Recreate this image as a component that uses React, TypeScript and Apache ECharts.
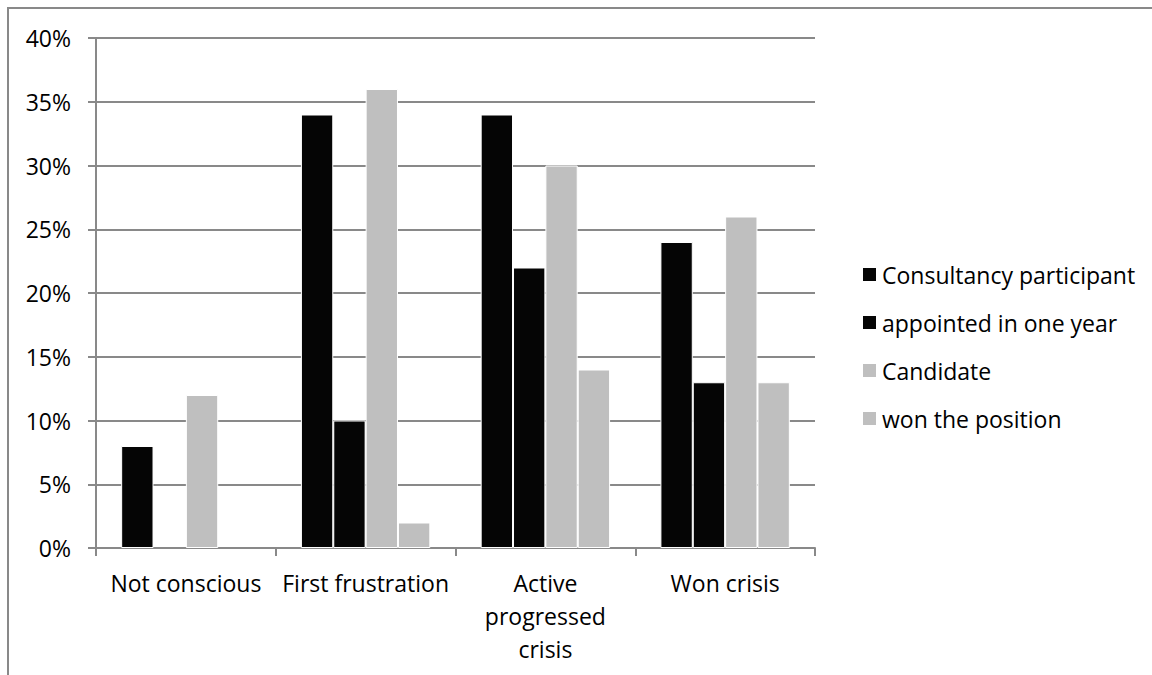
import React, { useEffect, useRef } from "react";
import * as echarts from "echarts";

const categories = ["Not conscious", "First frustration", "Active progressed crisis", "Won crisis"];
const categoryLabels: Record<string, string> = {
  "Active progressed crisis": "Active\nprogressed\ncrisis",
};
const seriesNames = ["Consultancy participant", "appointed in one year", "Candidate", "won the position"];
const consultancyParticipant = [8, 34, 34, 24];
const appointedInOneYear = [0, 10, 22, 13];
const candidate = [12, 36, 30, 26];
const wonThePosition = [0, 2, 14, 13];
const seriesValues = [consultancyParticipant, appointedInOneYear, candidate, wonThePosition];
const seriesColors = ["#050505", "#050505", "#bfbfbf", "#bfbfbf"];

const FONT = "'Open Sans', sans-serif";

export default function App() {
  const ref = useRef<HTMLDivElement>(null);
  useEffect(() => {
    if (!ref.current) return;
    const chart = echarts.init(ref.current, null, { renderer: "svg" });
    chart.setOption({
      animation: false,
      backgroundColor: "#ffffff",
      textStyle: { fontFamily: FONT },
      graphic: [
        {
          type: "rect",
          shape: { x: 8, y: 8, width: 1300, height: 900 },
          style: { fill: "none", stroke: "#898989", lineWidth: 2 },
          silent: true,
        },
      ],
      grid: { left: 96, top: 38, right: 337, bottom: 127, containLabel: false },
      legend: {
        orient: "vertical",
        left: 856,
        top: 258,
        itemWidth: 15,
        itemHeight: 15,
        itemGap: 25,
        icon: "rect",
        textStyle: { fontFamily: FONT, fontSize: 23, color: "#000" },
        data: seriesNames,
      },
      xAxis: {
        type: "category",
        data: categories,
        boundaryGap: true,
        axisLine: { lineStyle: { color: "#898989", width: 2 } },
        axisTick: { show: true, length: 8, lineStyle: { color: "#898989", width: 2 } },
        axisLabel: {
          interval: 0,
          margin: 18,
          fontFamily: FONT,
          fontSize: 23,
          lineHeight: 33,
          color: "#000",
          formatter: (v: string) => categoryLabels[v] ?? v,
        },
      },
      yAxis: {
        type: "value",
        min: 0,
        max: 40,
        interval: 5,
        axisLine: { show: true, lineStyle: { color: "#898989", width: 2 } },
        axisTick: { show: true, length: 8, lineStyle: { color: "#898989", width: 2 } },
        splitLine: { show: true, lineStyle: { color: "#898989", width: 2 } },
        axisLabel: {
          margin: 25,
          fontFamily: FONT,
          fontSize: 23,
          color: "#000",
          formatter: (v: number) => v + "%",
        },
      },
      series: seriesNames.map((name, i) => ({
        name,
        type: "bar",
        data: seriesValues[i].map((v) =>
          v === 0 ? { value: v, itemStyle: { borderWidth: 0, opacity: 0 } } : v
        ),
        barGap: "0%",
        barCategoryGap: "28%",
        itemStyle: { color: seriesColors[i], borderColor: "#ffffff", borderWidth: 1 },
      })),
    });
    return () => chart.dispose();
  }, []);
  return (
    <div
      ref={ref}
      style={{ position: "fixed", left: 0, top: 0, width: 1152, height: 675 }}
    />
  );
}
